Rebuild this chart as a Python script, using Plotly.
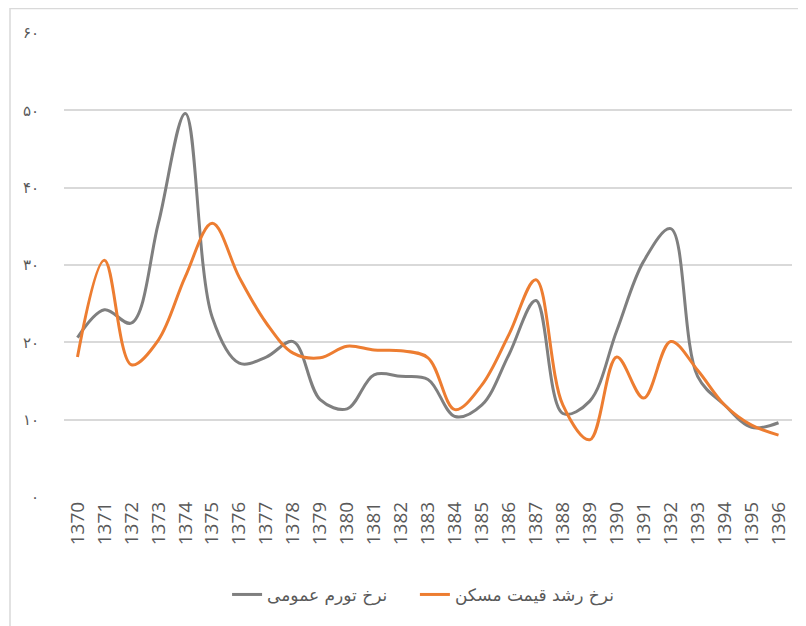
import plotly.graph_objects as go

years = [str(y) for y in range(1370, 1397)]
inflation = [20.6, 24.2, 22.5, 35.4, 49.6, 23.2, 17.3, 18.1, 20.1, 12.6, 11.4, 15.8, 15.6, 15.2,
             10.4, 11.9, 18.4, 25.4, 10.8, 12.4, 21.5, 30.5, 34.7, 15.6, 11.9, 9.0, 9.6]
housing = [18.1, 30.6, 17.1, 20.3, 28.5, 35.4, 28.4, 22.5, 18.6, 18.0, 19.5, 19.0, 18.9, 18.0,
           11.3, 14.5, 21.0, 28.1, 11.9, 7.4, 18.1, 12.8, 20.1, 16.4, 11.9, 9.3, 8.0]
y_ticks = [0, 10, 20, 30, 40, 50, 60]
y_tick_labels = ["۰", "۱۰", "۲۰", "۳۰", "۴۰", "۵۰", "۶۰"]
name_inflation = "نرخ تورم عمومی"
name_housing = "نرخ رشد قیمت مسکن"

W, H = 798, 618
L, T, PW, PH = 56, 25, 728, 464

fig = go.Figure()
fig.add_trace(go.Scatter(x=years, y=inflation, name=name_inflation, mode="lines", legend="legend",
                         line=dict(color="#7f7f7f", width=3, shape="spline", smoothing=1.0)))
fig.add_trace(go.Scatter(x=years, y=housing, name=name_housing, mode="lines", legend="legend2",
                         line=dict(color="#ed7d31", width=3, shape="spline", smoothing=1.0)))

leg_common = dict(orientation="h", y=-0.211, yanchor="middle", xanchor="left",
                  font=dict(size=17, color="#595959"), bgcolor="rgba(0,0,0,0)")

fig.update_layout(
    width=W, height=H,
    margin=dict(l=L, r=W - L - PW, t=T, b=H - T - PH),
    paper_bgcolor="white", plot_bgcolor="white",
    font=dict(family="DejaVu Sans, Open Sans, sans-serif", color="#595959"),
    showlegend=True,
    legend=dict(x=0.224, **leg_common),
    legend2=dict(x=0.482, **leg_common),
    xaxis=dict(type="category", tickangle=-90, showgrid=False, zeroline=False,
               showline=False, ticks="", tickfont=dict(size=19, family="Open Sans", color="#595959"),
               range=[-0.5, 26.5]),
    yaxis=dict(range=[0, 60], tickvals=y_ticks, ticktext=y_tick_labels,
               showgrid=True, gridcolor="#d9d9d9", gridwidth=1.5, zeroline=False,
               showline=False, ticks="", ticklabelstandoff=24,
               tickfont=dict(size=15, color="#595959")),
    shapes=[dict(type="rect", xref="paper", yref="paper",
                 x0=(2 - L) / PW, x1=(W + 5 - L) / PW,
                 y0=(T + PH - H - 5) / PH, y1=(T + PH - 0.5) / PH,
                 line=dict(color="#d9d9d9", width=1.5), fillcolor="rgba(0,0,0,0)", layer="below")],
)

fig.write_html("out.html")
